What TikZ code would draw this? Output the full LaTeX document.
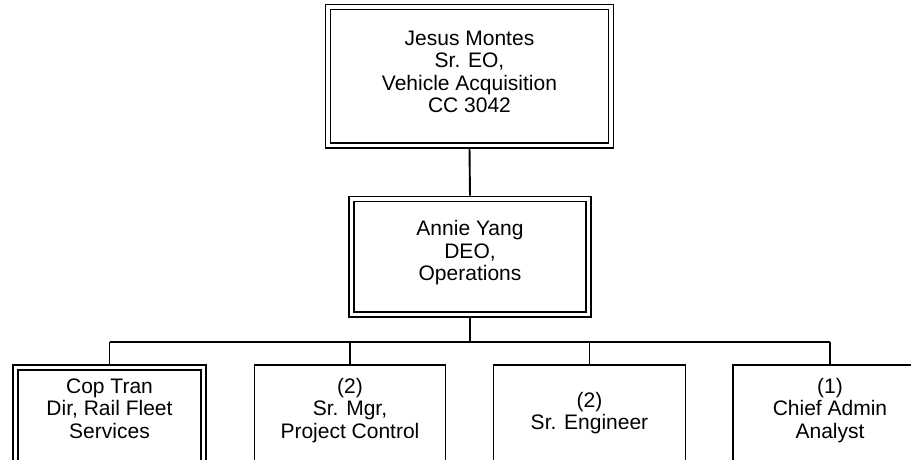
\documentclass[tikz,border=0pt]{standalone}
\usepackage{fontspec}
\setmainfont{Liberation Sans}
\begin{document}
\begin{tikzpicture}[x=1pt,y=-1pt,
  txt/.style={align=center, inner sep=0pt, font=\fontsize{21}{22.5}\selectfont},
  sbox/.style={draw, line width=1.9pt, inner sep=0pt},
  dbox/.style={draw, double, double distance=3.3pt, line width=1.7pt, inner sep=0pt},
  link/.style={draw, line width=1.9pt},
  dlink/.style={link, shorten <=2.5pt, shorten >=2.5pt}]
\clip (0,0) rectangle (911,459);
% top and middle boxes
\node[dbox, minimum width=283pt, minimum height=138.5pt] (top) at (469.5,76.25) {};
\node[dbox, minimum width=236.5pt, minimum height=115.5pt] (mid) at (470,256.75) {};
% bottom boxes
\node[dbox, anchor=north, minimum width=188pt, minimum height=110pt] (c1) at (109.5,366.5) {};
\node[sbox, anchor=north, minimum width=191pt, minimum height=110pt] (c2) at (350,363.8) {};
\node[sbox, anchor=north, minimum width=192pt, minimum height=110pt] (c3) at (589.5,363.8) {};
\node[sbox, anchor=north, minimum width=194pt, minimum height=110pt] (c4) at (830,363.8) {};
% texts
\node[txt] (t0) at (469.5,72) {Jesus Montes\\Sr. EO,\\Vehicle Acquisition\\CC 3042};
\node[txt] (tm) at (470,253) {Annie Yang\\DEO,\\Operations};
\node[txt] (t1) at (109.5,408.5) {Cop Tran\\Dir, Rail Fleet\\Services};
\node[txt] (t2) at (350,410.5) {(2)\\Sr. Mgr,\\Project Control};
\node[txt] (t3) at (589.5,413) {(2)\\Sr. Engineer};
\node[txt] (t4) at (830,410.5) {(1)\\Chief Admin\\Analyst};
% connectors
\coordinate (bus) at (470,342);
\draw[dlink] (top.south) -- (mid.north);
\draw[link, shorten <=2.5pt] (mid.south) -- (bus);
\draw[link] (bus -| c1.north) -- (bus -| c4.north);
\draw[link, shorten >=2.5pt] (bus -| c1.north) -- (c1.north);
\draw[link] (bus -| c2.north) -- (c2.north);
\draw[link] (bus -| c3.north) -- (c3.north);
\draw[link] (bus -| c4.north) -- (c4.north);
\end{tikzpicture}
\end{document}
